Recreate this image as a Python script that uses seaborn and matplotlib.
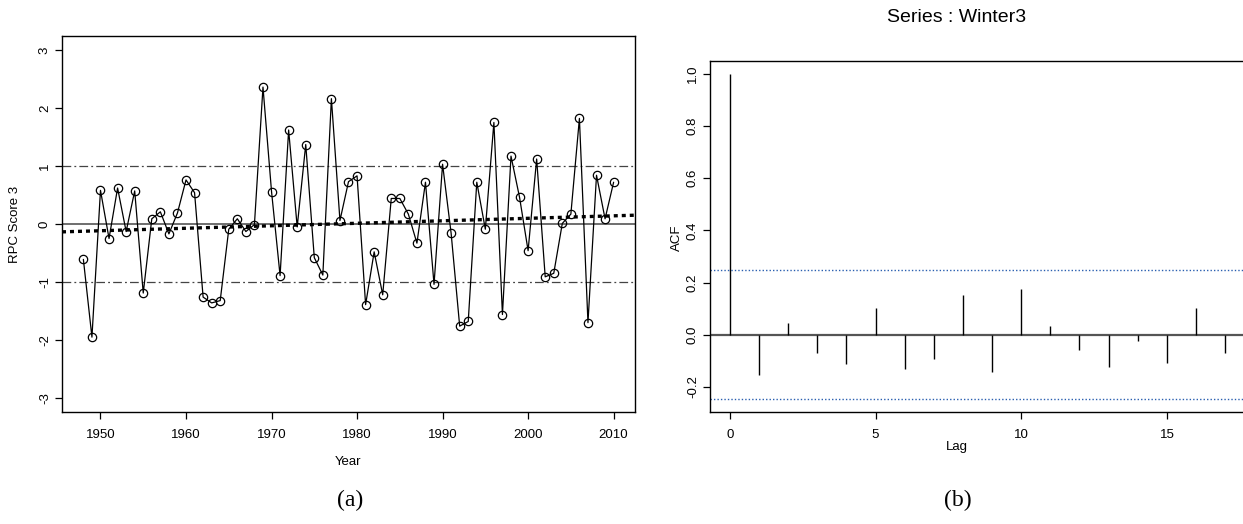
import numpy as np
import pandas as pd
import matplotlib
matplotlib.use("Agg")
import matplotlib.pyplot as plt
import seaborn as sns

# ---------------- data ----------------
years = list(range(1948, 2011))
rpc_score3 = [
    -0.61, -1.95, 0.58, -0.25, 0.62, -0.13, 0.57, -1.19, 0.09, 0.21,
    -0.17, 0.19, 0.76, 0.54, -1.26, -1.36, -1.32, -0.09, 0.09, -0.13,
    -0.01, 2.36, 0.56, -0.89, 1.62, -0.05, 1.37, -0.58, -0.88, 2.16,
    0.06, 0.73, 0.83, -1.39, -0.48, -1.22, 0.44, 0.44, 0.17, -0.33,
    0.72, -1.04, 1.03, -0.16, -1.76, -1.68, 0.72, -0.09, 1.75, -1.56,
    1.17, 0.46, -0.46, 1.12, -0.91, -0.85, 0.01, 0.17, 1.82, -1.70,
    0.84, 0.09, 0.72,
]
ref_levels = [-1.0, 1.0]
lags = list(range(0, 18))
acf_values = [
    1.0, -0.155, 0.045, -0.070, -0.112, 0.103, -0.133, -0.092, 0.154, -0.141,
    0.176, 0.032, -0.060, -0.122, -0.022, -0.110, 0.103, -0.071,
]
conf_limit = 0.247
left_yticks = [-3, -2, -1, 0, 1, 2, 3]
left_xticks = [1950, 1960, 1970, 1980, 1990, 2000, 2010]
acf_yticks = [-0.2, 0.0, 0.2, 0.4, 0.6, 0.8, 1.0]
acf_xticks = [0, 5, 10, 15]

df = pd.DataFrame({"Year": years, "Score": rpc_score3})

# ---------------- figure ----------------
sns.set_theme(style="white")
plt.rcParams["font.family"] = ["Liberation Sans", "DejaVu Sans"]
plt.rcParams["axes.unicode_minus"] = False
for key in ("text.color", "axes.labelcolor", "xtick.color", "ytick.color",
            "xtick.labelcolor", "ytick.labelcolor"):
    plt.rcParams[key] = "black"
W, H = 1243, 524
fig = plt.figure(figsize=(W / 100, H / 100), dpi=100)
fig.patch.set_facecolor("white")

FS = 9.5

def style_axes(ax):
    for s in ax.spines.values():
        s.set_visible(True)
        s.set_color("black")
        s.set_linewidth(1.0)
    ax.tick_params(axis="both", which="both", direction="out", length=5,
                   width=0.9, color="black", labelcolor="black", labelsize=FS,
                   pad=3, bottom=True, left=True, top=False, right=False)
    ax.tick_params(axis="x", pad=7)
    for lab in ax.get_yticklabels():
        lab.set_rotation(90)
        lab.set_va("center")

# ---------- panel (a) ----------
ax1 = fig.add_axes([62 / W, 1 - 412 / H, 573 / W, 376 / H])
ax1.set_xlim(1945.5, 2012.5)
ax1.set_ylim(-3.24, 3.24)
ax1.axhline(0, color="#555555", lw=1.2, zorder=1)
for lv in ref_levels:
    ax1.axhline(lv, color="#444444", lw=0.9, linestyle=(0, (7, 2.5, 1.5, 2.5)), zorder=1)
sns.regplot(data=df, x="Year", y="Score", ax=ax1, scatter=False, ci=None,
            truncate=False, color="black",
            line_kws={"lw": 2.4, "linestyle": (0, (1.2, 1.2)), "zorder": 2})
sns.lineplot(data=df, x="Year", y="Score", ax=ax1, color="black", lw=0.9,
             marker="o", markersize=6, markerfacecolor="none",
             markeredgecolor="black", markeredgewidth=0.9, zorder=3)
ax1.set_xticks(left_xticks)
ax1.set_yticks(left_yticks)
ax1.set_xlabel("")
ax1.set_ylabel("")
style_axes(ax1)

fig.text(15 / W, 1 - 224 / H, "RPC Score 3", rotation=90, ha="center",
         va="center", fontsize=FS, color="black")
fig.text(348 / W, 1 - 462 / H, "Year", ha="center", va="center", fontsize=FS,
         color="black")

# ---------- panel (b) ----------
ax2 = fig.add_axes([710 / W, 1 - 412.3 / H, 535 / W, 351.6 / H])
ax2.set_xlim(-0.68, 17.68)
ax2.set_ylim(-0.297, 1.05)
ax2.vlines(lags, 0, acf_values, color="black", lw=1.0, zorder=3)
ax2.axhline(0, color="#555555", lw=1.6, zorder=2)
for c in (conf_limit, -conf_limit):
    ax2.axhline(c, color="#2a5fb0", lw=1.0, linestyle=(0, (1, 1.5)), zorder=2)
ax2.set_xticks(acf_xticks)
ax2.set_yticks(acf_yticks)
ax2.set_yticklabels([f"{v:.1f}" for v in acf_yticks])
ax2.set_xlabel("")
ax2.set_ylabel("")
style_axes(ax2)

fig.text(957 / W, 1 - 18 / H, "Series : Winter3", ha="center", va="center",
         fontsize=14, color="black")
fig.text(677 / W, 1 - 238 / H, "ACF", rotation=90, ha="center", va="center",
         fontsize=FS, color="black")
fig.text(957 / W, 1 - 447 / H, "Lag", ha="center", va="center", fontsize=FS,
         color="black")

# captions
fig.text(350 / W, 1 - 500 / H, "(a)", ha="center", va="center", fontsize=17,
         family=["Liberation Serif", "DejaVu Serif"], color="black")
fig.text(958 / W, 1 - 500 / H, "(b)", ha="center", va="center", fontsize=17,
         family=["Liberation Serif", "DejaVu Serif"], color="black")

fig.savefig("out.png", dpi=100, facecolor="white")
